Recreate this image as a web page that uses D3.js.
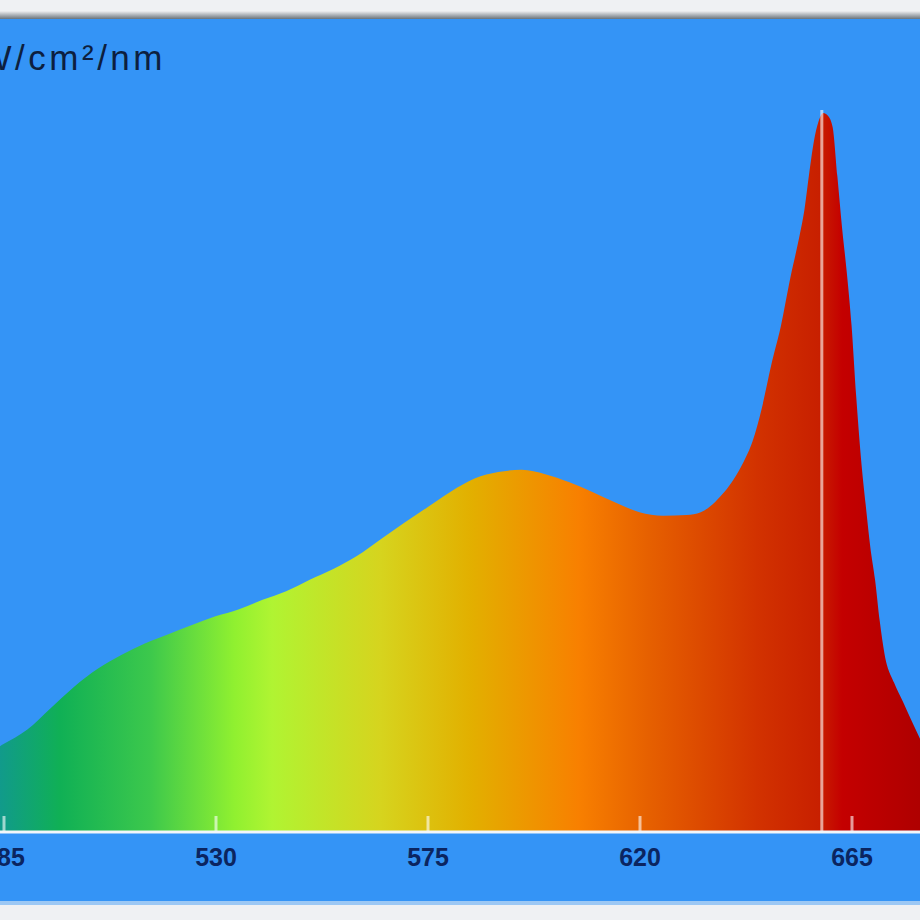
<!DOCTYPE html>
<html>
<head>
<meta charset="utf-8">
<script src="https://cdn.jsdelivr.net/npm/d3@7/dist/d3.min.js"></script>
<style>
  html, body { margin: 0; padding: 0; background: #eff1f3; }
  svg { display: block; }
</style>
</head>
<body>
<script>
// ---- data ----
const wavelengths = [480, 485, 490, 495, 500, 505, 510, 515, 520, 525, 530, 535, 540, 545, 550, 555, 560, 565, 570, 575, 580, 585, 590, 595, 600, 605, 610, 615, 620, 625, 630, 633, 636, 638, 640, 642, 644, 646, 648, 650, 652, 654, 655, 656, 657, 658, 659, 660, 661, 662, 663, 664, 665, 666, 667, 668, 669, 670, 671, 672, 674, 676, 678, 680];
const irradiance = [0.102, 0.121, 0.141, 0.171, 0.201, 0.226, 0.245, 0.261, 0.274, 0.287, 0.299, 0.309, 0.322, 0.334, 0.350, 0.365, 0.383, 0.406, 0.429, 0.451, 0.473, 0.491, 0.500, 0.503, 0.497, 0.486, 0.472, 0.457, 0.444, 0.439, 0.440, 0.444, 0.458, 0.472, 0.490, 0.513, 0.543, 0.590, 0.650, 0.703, 0.770, 0.830, 0.865, 0.915, 0.960, 0.988, 1.000, 0.996, 0.980, 0.912, 0.840, 0.778, 0.705, 0.605, 0.520, 0.455, 0.395, 0.350, 0.292, 0.247, 0.207, 0.179, 0.150, 0.122];
const tickValues = [485, 530, 575, 620, 665];
const tickLabels = ["485", "530", "575", "620", "665"];
const peakWavelength = 658.7;
const unitLabel = "µW/cm²/nm";

// spectrum colours along wavelength
const colourStops = [
  [484, "#119a8c"], [497, "#10b055"], [516, "#3cc84c"], [534, "#90f030"],
  [542, "#b0f432"], [565, "#d6d41e"], [584, "#e2b000"], [607, "#f88000"],
  [622, "#e66000"], [645, "#d23200"], [658, "#c82000"], [663, "#c40000"],
  [680, "#ae0000"]
];

// ---- layout ----
const W = 920, H = 920;
const plotTop = 19, baseY = 831, blueBottom = 901;

const svg = d3.select("body").append("svg").attr("width", W).attr("height", H);
const defs = svg.append("defs");

const x = d3.scaleLinear().domain([485, 665]).range([3.5, 851.5]);
const y = d3.scaleLinear().domain([0, 1.13]).range([baseY, baseY - 1.13 * 718]);

// frame
svg.append("rect").attr("x", 0).attr("y", 0).attr("width", W).attr("height", H).attr("fill", "#eff1f3");
const fg = defs.append("linearGradient").attr("id", "edge").attr("x1", 0).attr("x2", 0).attr("y1", 0).attr("y2", 1);
fg.append("stop").attr("offset", 0).attr("stop-color", "#eff0f2");
fg.append("stop").attr("offset", 1).attr("stop-color", "#6a747c");
svg.append("rect").attr("x", 0).attr("y", 11).attr("width", W).attr("height", 8).attr("fill", "url(#edge)");
svg.append("rect").attr("x", 0).attr("y", plotTop).attr("width", W).attr("height", blueBottom - plotTop).attr("fill", "#3494f6");
svg.append("rect").attr("x", 0).attr("y", blueBottom).attr("width", W).attr("height", 4).attr("fill", "#9cc8f4");

// spectrum gradient
const grad = defs.append("linearGradient").attr("id", "spec")
  .attr("gradientUnits", "userSpaceOnUse")
  .attr("x1", x(colourStops[0][0])).attr("x2", x(colourStops[colourStops.length - 1][0]))
  .attr("y1", 0).attr("y2", 0);
const s0 = colourStops[0][0], s1 = colourStops[colourStops.length - 1][0];
colourStops.forEach(([nm, c]) => {
  grad.append("stop").attr("offset", (nm - s0) / (s1 - s0)).attr("stop-color", c);
});

const data = wavelengths.map((w, i) => ({ w, v: irradiance[i] }));
const area = d3.area().x(d => x(d.w)).y0(y(0)).y1(d => y(d.v)).curve(d3.curveMonotoneX);
svg.append("path").datum(data).attr("d", area).attr("fill", "url(#spec)");

// peak marker line
svg.append("line")
  .attr("x1", x(peakWavelength)).attr("x2", x(peakWavelength))
  .attr("y1", y(1.0) - 3).attr("y2", baseY)
  .attr("stroke", "#ffffff").attr("stroke-opacity", 0.6).attr("stroke-width", 3);

// axis
const axis = d3.axisBottom(x).tickValues(tickValues).tickFormat((d, i) => tickLabels[i]).tickSize(0).tickPadding(12);
const ag = svg.append("g").attr("transform", `translate(0,${baseY})`).call(axis);
ag.select(".domain").remove();
ag.selectAll(".tick text")
  .attr("font-family", "Liberation Sans, Arial, sans-serif")
  .attr("font-weight", "bold").attr("font-size", 25).attr("fill", "#0b2560")
  .attr("dy", "0.9em");
ag.selectAll(".tick").append("line")
  .attr("x1", 0).attr("x2", 0).attr("y1", -15).attr("y2", 0)
  .attr("stroke", "#ffffff").attr("stroke-opacity", 0.6).attr("stroke-width", 3);
svg.append("line").attr("x1", 0).attr("x2", W).attr("y1", baseY + 1).attr("y2", baseY + 1)
  .attr("stroke", "#f2f6fa").attr("stroke-width", 3);

// unit label (cut at the left edge, as in the reference crop)
svg.append("text").attr("x", 166).attr("y", 70).attr("text-anchor", "end")
  .attr("font-family", "Liberation Sans, Arial, sans-serif").attr("font-size", 35)
  .attr("letter-spacing", 3.5)
  .attr("fill", "#0d1f3f").text(unitLabel);
</script>
</body>
</html>
